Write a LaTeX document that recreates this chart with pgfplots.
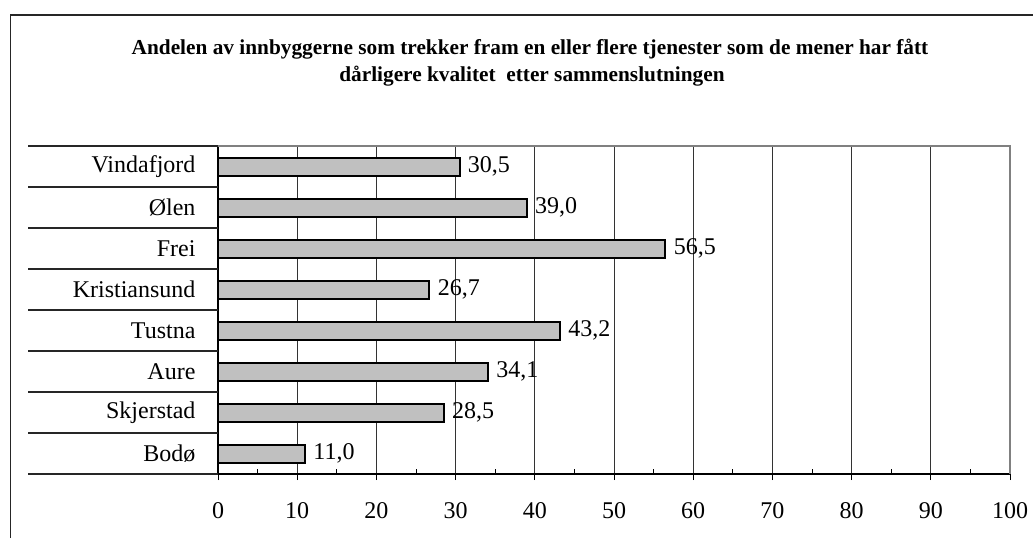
\documentclass[border=0pt]{standalone}
\usepackage{pgfplots}
\pgfplotsset{compat=1.18}
\usepackage{pgfplotstable}
\usepackage{fontspec}
\setmainfont{Liberation Serif}
\definecolor{barfill}{HTML}{C0C0C0}
\pgfplotstableread{
y x label
0 11.0 11,0
1 28.5 28,5
2 34.1 34,1
3 43.2 43,2
4 26.7 26,7
5 56.5 56,5
6 39.0 39,0
7 30.5 30,5
}\datatable
\begin{document}
\begin{tikzpicture}[font=\fontsize{24}{28}\selectfont]
\path[use as bounding box] (0pt,0pt) rectangle (1033pt,538pt);
\draw[line width=1.3pt, black!85] (10.5pt,0pt) -- (10.5pt,523pt) -- (1040pt,523pt);
\node[anchor=base, font=\bfseries\fontsize{21.3}{25}\selectfont] at (530pt,483pt) {Andelen av innbyggerne som trekker fram en eller flere tjenester som de mener har fått};
\node[anchor=base, font=\bfseries\fontsize{21.3}{25}\selectfont] at (532pt,456pt) {dårligere kvalitet\ \ etter sammenslutningen};
\begin{axis}[
  at={(218pt,64pt)}, anchor=south west,
  width=792pt, height=328pt, scale only axis,
  xmin=0, xmax=100, ymin=-0.5, ymax=7.5,
  axis x line*=bottom, axis y line*=left,
  axis line style={line width=1.2pt, black},
  xtick={0,10,...,100},
  minor xtick={5,15,...,95},
  tick align=outside,
  major tick length=6pt,
  minor tick length=5pt,
  minor tick style={yshift=5pt, line width=1pt, black},
  major tick style={line width=1pt, black},
  xmajorgrids,
  major grid style={black!80, line width=0.9pt},
  ytick={0,...,7},
  yticklabels={Bodø,Skjerstad,Aure,Tustna,Kristiansund,Frei,Ølen,Vindafjord},
  ytick style={draw=none},
  yticklabel style={anchor=east, xshift=-13pt},
  xticklabel style={anchor=north, yshift=-19pt},
  /pgf/number format/assume math mode=true,
  tick label style={font=\fontsize{24}{28}\selectfont},
  clip=false,
]
\addplot[xbar, bar width=18pt, fill=barfill, draw=black, line width=2pt,
  point meta=explicit symbolic,
  nodes near coords,
  nodes near coords style={anchor=west, xshift=4pt, font=\fontsize{24}{28}\selectfont, text=black}]
  table[x=x, y=y, meta=label] {\datatable};
\draw[black!85, line width=1.2pt] (rel axis cs:0,0) -- ++(-190pt,0pt);
\draw[black!85, line width=1.2pt] (rel axis cs:0,0.125) -- ++(-190pt,0pt);
\draw[black!85, line width=1.2pt] (rel axis cs:0,0.25) -- ++(-190pt,0pt);
\draw[black!85, line width=1.2pt] (rel axis cs:0,0.375) -- ++(-190pt,0pt);
\draw[black!85, line width=1.2pt] (rel axis cs:0,0.5) -- ++(-190pt,0pt);
\draw[black!85, line width=1.2pt] (rel axis cs:0,0.625) -- ++(-190pt,0pt);
\draw[black!85, line width=1.2pt] (rel axis cs:0,0.75) -- ++(-190pt,0pt);
\draw[black!85, line width=1.2pt] (rel axis cs:0,0.875) -- ++(-190pt,0pt);
\draw[black!85, line width=1.2pt] (rel axis cs:0,1) -- ++(-190pt,0pt);
\draw[black!50, line width=1.5pt] (rel axis cs:0,1) -- (rel axis cs:1,1) -- (rel axis cs:1,0);
\end{axis}
\end{tikzpicture}
\end{document}
